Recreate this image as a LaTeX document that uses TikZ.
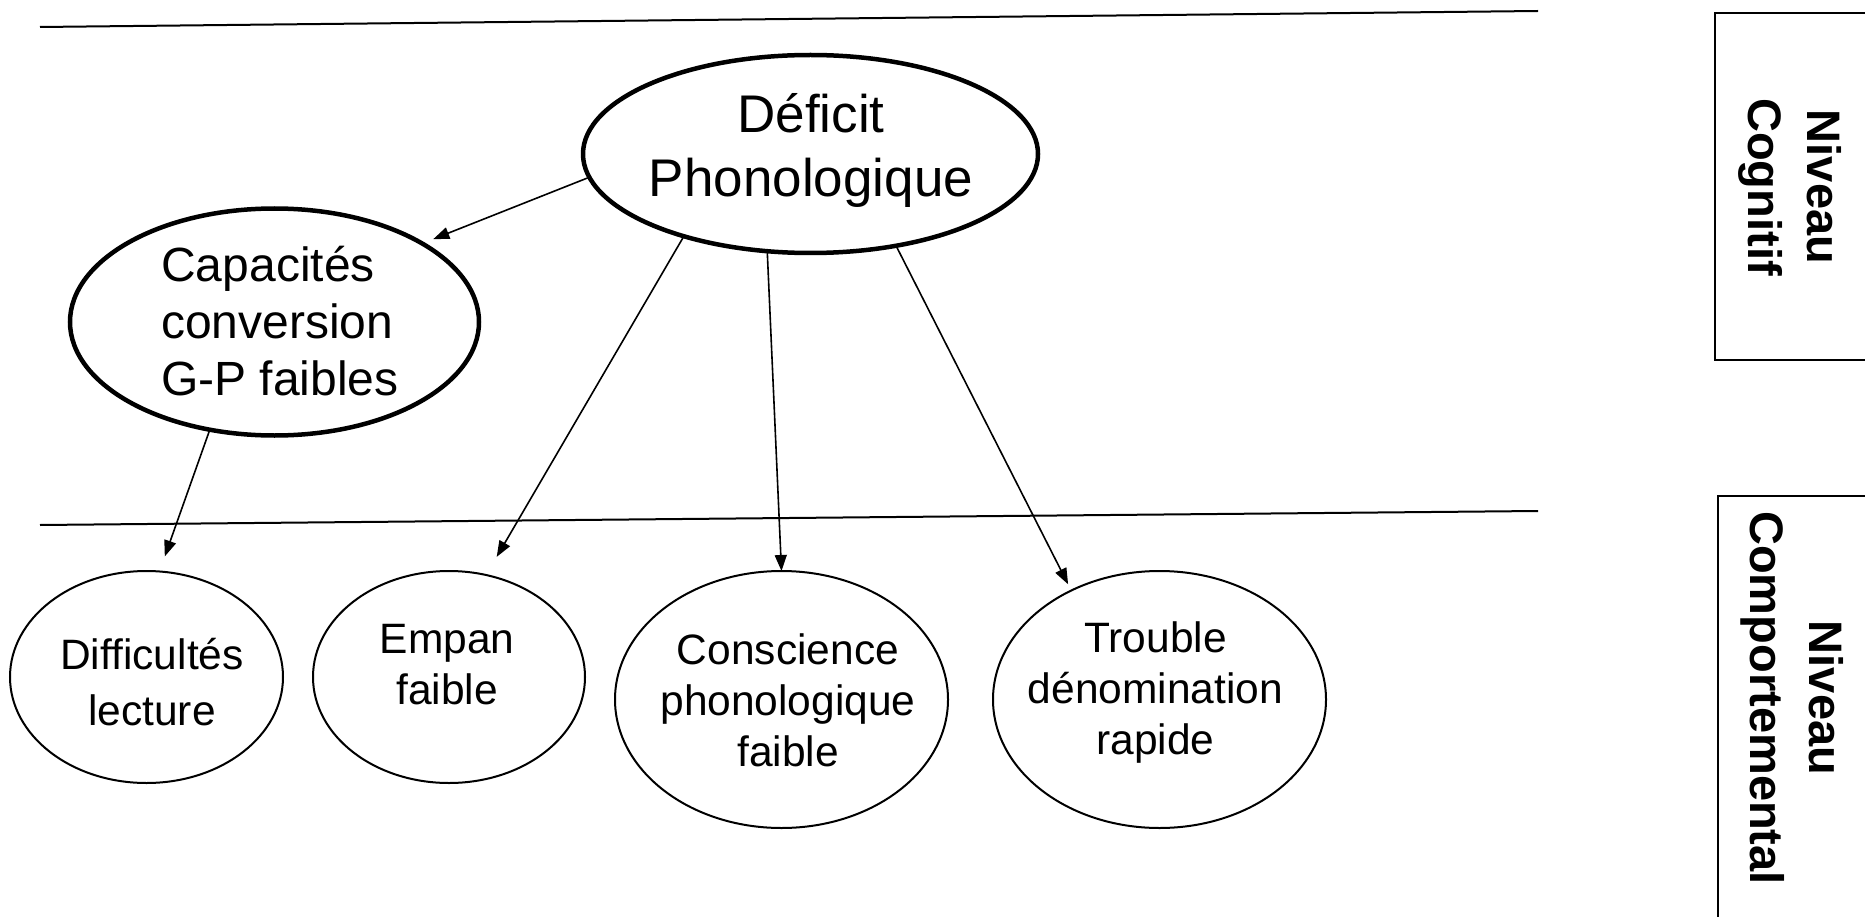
\documentclass[tikz,border=0pt]{standalone}
\usepackage{fontspec}
\setmainfont{Liberation Sans}
\usetikzlibrary{arrows.meta,shapes.geometric}
\begin{document}
\begin{tikzpicture}[x=1pt,y=-1pt,
  ell/.style={draw, ellipse, inner sep=0pt, outer sep=0pt, line width=2pt},
  thickell/.style={ell, line width=4.5pt},
  lbl/.style={align=center, inner sep=0pt},
  arr/.style={-{Triangle[length=16pt,width=12pt]}, line width=1.6pt},
  rule/.style={line width=2pt},
  lvlbox/.style={draw, line width=2pt, inner sep=0pt, anchor=north west},
  lvltxt/.style={rotate=-90, align=center, inner sep=0pt, font=\bfseries\fontsize{47}{59}\selectfont}]
\fill[white] (0,0) rectangle (1865,917);
\useasboundingbox (0,0) rectangle (1865,917);

% level separators
\coordinate (t1) at (40,27);
\coordinate (t2) at (1538,11);
\coordinate (m1) at (40,525);
\coordinate (m2) at (1538,511);
\draw[rule] (t1) -- (t2);
\draw[rule] (m1) -- (m2);

% level boxes
\node[lvlbox, minimum width=200pt, minimum height=347pt] (cogbox) at (1714,12) {};
\node[lvltxt] (cogtxt) at (1790,187) {Niveau\\Cognitif};
\node[lvlbox, minimum width=200pt, minimum height=480pt] (compbox) at (1717,495) {};
\node[lvltxt] (comptxt) at (1792,698) {Niveau\\Comportemental};

% ellipses
\node[thickell, minimum width=455pt, minimum height=198pt] (def) at (810.5,154) {};
\node[lbl, font=\fontsize{53}{64}\selectfont] (deft) at (811,150) {Déficit\\Phonologique};

\node[thickell, minimum width=409pt, minimum height=227pt] (cap) at (274.5,322) {};
\node[lbl, align=left, font=\fontsize{48}{57}\selectfont] (capt) at (280,321) {Capacités\\conversion\\G-P faibles};

\node[ell, minimum width=273pt, minimum height=212pt] (dif) at (146.5,677) {};
\node[lbl, font=\fontsize{42.5}{56}\selectfont] (dift) at (152,682) {Difficultés\\lecture};

\node[ell, minimum width=272pt, minimum height=212pt] (emp) at (449,677) {};
\node[lbl, font=\fontsize{42.5}{51}\selectfont] (empt) at (447,665) {Empan\\faible};

\node[ell, minimum width=333pt, minimum height=257pt] (con) at (781.5,699.5) {};
\node[lbl, font=\fontsize{42.5}{51}\selectfont] (cont) at (788,700) {Conscience\\phonologique\\faible};

\node[ell, minimum width=333pt, minimum height=257pt] (tro) at (1159.5,699.5) {};
\node[lbl, font=\fontsize{42.5}{51}\selectfont] (trot) at (1155.5,693) {Trouble\\dénomination\\rapide};

% arrows
\draw[arr, shorten >=12pt] (def.186) -- (cap.28);
\draw[arr, shorten >=16pt] (cap.239) -- (dif.83);
\draw[arr, shorten >=21pt] (def.213) -- (emp.70);
\draw[arr] (def.246) -- (con.90);
\draw[arr, shorten >=7pt] (def.313) -- (tro.129);
\end{tikzpicture}
\end{document}
